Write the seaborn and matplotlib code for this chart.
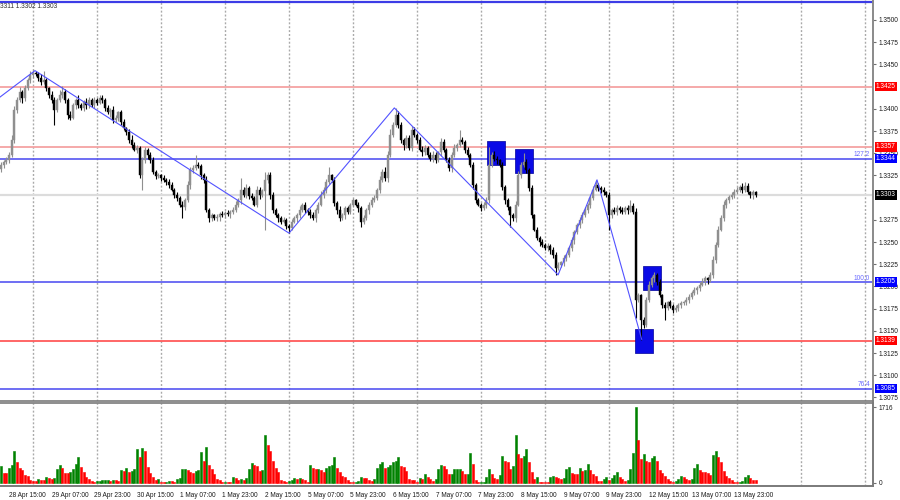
import matplotlib
matplotlib.use("Agg")
import matplotlib.pyplot as plt
import matplotlib.transforms as mtransforms
from matplotlib.path import Path
import numpy as np
import pandas as pd
import seaborn as sns

# --- GBPUSD H1 data, bar 0 = 28 Apr 12:00 ---
first_open = 1.3332
closes = [
    1.3337, 1.3340, 1.3342, 1.3348, 1.3365, 1.3399, 1.3410, 1.3419, 1.3412, 1.3423, 1.3432, 1.3438,
    1.3440, 1.3439, 1.3435, 1.3430, 1.3432, 1.3423, 1.3416, 1.3410, 1.3399, 1.3410, 1.3416, 1.3419,
    1.3410, 1.3393, 1.3390, 1.3404, 1.3410, 1.3404, 1.3401, 1.3408, 1.3404, 1.3410, 1.3404, 1.3410,
    1.3407, 1.3412, 1.3410, 1.3401, 1.3396, 1.3399, 1.3387, 1.3390, 1.3396, 1.3385, 1.3378, 1.3374,
    1.3365, 1.3359, 1.3354, 1.3356, 1.3325, 1.3342, 1.3354, 1.3348, 1.3342, 1.3329, 1.3324, 1.3325,
    1.3322, 1.3320, 1.3318, 1.3314, 1.3309, 1.3303, 1.3300, 1.3292, 1.3289, 1.3297, 1.3314, 1.3331,
    1.3333, 1.3337, 1.3336, 1.3325, 1.3320, 1.3286, 1.3277, 1.3280, 1.3277, 1.3278, 1.3282, 1.3280,
    1.3283, 1.3281, 1.3284, 1.3286, 1.3292, 1.3297, 1.3309, 1.3303, 1.3311, 1.3302, 1.3300, 1.3292,
    1.3309, 1.3303, 1.3308, 1.3320, 1.3325, 1.3303, 1.3286, 1.3280, 1.3277, 1.3273, 1.3275, 1.3268,
    1.3266, 1.3273, 1.3277, 1.3280, 1.3286, 1.3292, 1.3286, 1.3284, 1.3280, 1.3277, 1.3286, 1.3292,
    1.3303, 1.3309, 1.3318, 1.3325, 1.3320, 1.3294, 1.3286, 1.3277, 1.3280, 1.3288, 1.3284, 1.3292,
    1.3297, 1.3292, 1.3288, 1.3273, 1.3277, 1.3286, 1.3292, 1.3297, 1.3300, 1.3309, 1.3320, 1.3329,
    1.3322, 1.3348, 1.3371, 1.3382, 1.3393, 1.3382, 1.3365, 1.3359, 1.3367, 1.3356, 1.3376, 1.3371,
    1.3365, 1.3354, 1.3351, 1.3356, 1.3348, 1.3344, 1.3348, 1.3342, 1.3351, 1.3363, 1.3354, 1.3342,
    1.3333, 1.3348, 1.3356, 1.3359, 1.3365, 1.3363, 1.3354, 1.3348, 1.3337, 1.3314, 1.3297, 1.3292,
    1.3288, 1.3292, 1.3297, 1.3337, 1.3348, 1.3344, 1.3342, 1.3337, 1.3312, 1.3297, 1.3289, 1.3280,
    1.3277, 1.3292, 1.3325, 1.3337, 1.3340, 1.3331, 1.3311, 1.3280, 1.3264, 1.3255, 1.3250, 1.3247,
    1.3243, 1.3246, 1.3241, 1.3235, 1.3221, 1.3224, 1.3227, 1.3232, 1.3235, 1.3243, 1.3252, 1.3261,
    1.3269, 1.3275, 1.3280, 1.3286, 1.3292, 1.3300, 1.3309, 1.3314, 1.3311, 1.3309, 1.3306, 1.3303,
    1.3280, 1.3286, 1.3284, 1.3288, 1.3286, 1.3284, 1.3288, 1.3286, 1.3291, 1.3284, 1.3185, 1.3190,
    1.3162, 1.3157, 1.3185, 1.3202, 1.3209, 1.3213, 1.3205, 1.3190, 1.3179, 1.3176, 1.3182, 1.3178,
    1.3173, 1.3176, 1.3179, 1.3181, 1.3182, 1.3185, 1.3188, 1.3193, 1.3196, 1.3198, 1.3202, 1.3205,
    1.3209, 1.3207, 1.3213, 1.3230, 1.3247, 1.3264, 1.3277, 1.3292, 1.3297, 1.3301, 1.3303, 1.3306,
    1.3309, 1.3312, 1.3309, 1.3313, 1.3306, 1.3303, 1.3306, 1.3303,
]
# upper / lower shadow lengths in pips
wick_up = [
    3, 2, 4, 3, 5, 4, 3, 6, 2, 4, 3, 5,
    4, 3, 2, 4, 10, 3, 2, 4, 3, 2, 5, 7, 3, 2, 4, 3, 2, 5, 3, 2, 4, 3, 2, 3,
    2, 4, 3, 2, 3, 2, 4, 3, 2, 3, 4, 2, 3, 5, 4, 3, 2, 4, 3, 2, 3, 4, 2, 3,
    2, 3, 2, 3, 4, 2, 3, 2, 4, 3, 5, 3, 4, 11, 3, 2, 3, 4, 2, 3, 2, 3, 2, 3,
    2, 3, 2, 3, 4, 3, 13, 3, 4, 2, 3, 2, 4, 3, 2, 9, 4, 4, 3, 2, 3, 2, 3, 2,
    2, 3, 2, 3, 4, 2, 3, 2, 3, 4, 2, 3, 4, 3, 3, 9, 2, 3, 2, 4, 3, 2, 3, 2,
    3, 2, 3, 2, 3, 2, 3, 4, 3, 2, 4, 3, 5, 4, 6, 3, 8, 4, 3, 2, 4, 3, 5, 3,
    2, 3, 4, 3, 2, 3, 4, 3, 2, 4, 3, 2, 4, 3, 4, 3, 11, 3, 2, 3, 2, 3, 2, 3,
    2, 3, 4, 20, 3, 4, 3, 2, 3, 2, 3, 2, 3, 4, 5, 3, 10, 3, 2, 3, 2, 3, 2, 3,
    2, 3, 2, 3, 4, 3, 2, 3, 2, 3, 4, 3, 2, 3, 4, 3, 2, 3, 4, 6, 3, 2, 3, 2,
    3, 2, 3, 4, 2, 3, 2, 4, 6, 3, 4, 3, 2, 4, 3, 4, 3, 3, 2, 3, 2, 3, 2, 3,
    2, 3, 2, 3, 2, 3, 4, 2, 3, 2, 3, 4, 3, 2, 3, 4, 3, 4, 3, 4, 3, 2, 3, 4,
    3, 2, 4, 5, 3, 2, 3, 2,
]
wick_dn = [
    3, 4, 2, 3, 2, 3, 4, 2, 5, 3, 2, 3,
    3, 2, 4, 3, 2, 3, 4, 3, 17, 3, 2, 4, 3, 5, 3, 2, 4, 3, 2, 3, 4, 3, 2, 3,
    3, 2, 4, 3, 2, 5, 3, 2, 4, 3, 2, 3, 4, 3, 2, 4, 3, 16, 3, 4, 3, 2, 3, 2,
    3, 2, 4, 3, 2, 3, 4, 3, 12, 3, 2, 4, 3, 2, 3, 4, 3, 2, 4, 3, 2, 3, 4, 2,
    3, 2, 4, 3, 2, 3, 4, 2, 3, 4, 3, 2, 3, 4, 2, 44, 3, 4, 3, 2, 4, 3, 2, 3,
    6, 3, 2, 4, 3, 2, 3, 4, 3, 2, 4, 3, 2, 3, 4, 3, 2, 3, 4, 3, 2, 4, 3, 2,
    3, 2, 4, 6, 3, 2, 4, 3, 2, 3, 4, 2, 3, 4, 2, 3, 2, 4, 3, 5, 3, 2, 4, 3,
    3, 2, 4, 3, 2, 3, 4, 3, 2, 4, 3, 2, 3, 4, 2, 3, 2, 3, 4, 2, 3, 4, 3, 2,
    3, 2, 4, 3, 2, 3, 4, 2, 3, 4, 3, 13, 3, 4, 2, 3, 2, 3, 4, 3, 2, 3, 4, 3,
    2, 3, 4, 3, 8, 3, 2, 4, 3, 2, 3, 4, 2, 3, 4, 2, 3, 4, 3, 2, 3, 4, 3, 2,
    16, 3, 2, 4, 3, 2, 3, 4, 2, 3, 20, 3, 22, 4, 3, 2, 3, 4, 3, 2, 3, 14, 3, 2,
    3, 2, 4, 3, 2, 3, 4, 2, 3, 4, 3, 2, 3, 4, 2, 3, 4, 3, 2, 3, 4, 3, 2, 3,
    2, 3, 4, 3, 2, 3, 4, 2,
]
volumes = [
    389, 214, 214, 343, 404, 725, 465, 328, 290, 175, 153, 61,
    46, 30, 76, 70, 68, 137, 99, 76, 99, 313, 404, 328, 229, 220, 252, 313, 427, 572, 366, 252, 122, 76, 38, 23,
    30, 45, 61, 65, 70, 46, 61, 55, 38, 290, 267, 328, 252, 267, 305, 763, 572, 786, 710, 366, 214, 137, 70, 76,
    23, 10, 15, 38, 35, 10, 76, 99, 300, 310, 290, 252, 229, 275, 290, 687, 496, 809, 404, 313, 198, 76, 61, 23,
    26, 12, 10, 122, 99, 61, 76, 61, 99, 305, 443, 404, 382, 267, 280, 1091, 862, 710, 496, 328, 252, 61, 38, 10,
    46, 50, 99, 76, 99, 76, 61, 23, 404, 328, 310, 320, 290, 252, 328, 382, 390, 580, 343, 252, 153, 122, 61, 20,
    8, 15, 38, 122, 115, 99, 61, 46, 76, 343, 427, 458, 343, 350, 404, 458, 496, 580, 382, 366, 267, 76, 70, 61,
    10, 114, 76, 191, 137, 76, 46, 76, 305, 404, 382, 305, 191, 200, 305, 310, 313, 275, 191, 200, 671, 427, 61, 10,
    15, 20, 122, 313, 191, 99, 95, 175, 610, 496, 458, 305, 382, 1091, 656, 557, 595, 763, 458, 252, 76, 122, 23, 20,
    15, 10, 137, 153, 140, 99, 84, 99, 305, 351, 214, 205, 200, 328, 267, 290, 420, 290, 198, 153, 46, 40, 76, 122,
    61, 99, 175, 244, 122, 76, 46, 61, 305, 671, 1716, 977, 542, 656, 496, 465, 557, 595, 481, 290, 214, 153, 76, 46,
    23, 46, 76, 153, 122, 76, 61, 84, 328, 427, 290, 252, 245, 214, 175, 633, 710, 572, 458, 267, 153, 114, 61, 23,
    10, 15, 46, 122, 175, 99, 61, 55,
]

date_labels = ["28 Apr 15:00", "29 Apr 07:00", "29 Apr 23:00", "30 Apr 15:00", "1 May 07:00",
               "1 May 23:00", "2 May 15:00", "5 May 07:00", "5 May 23:00", "6 May 15:00",
               "7 May 07:00", "7 May 23:00", "8 May 15:00", "9 May 07:00", "9 May 23:00",
               "12 May 15:00", "13 May 07:00", "13 May 23:00"]
date_bars = [3, 19, 35, 51, 67, 83, 99, 115, 131, 147, 163, 179, 195, 211, 227, 243, 259, 275]
day_bars = [12, 36, 60, 84, 108, 132, 156, 180, 204, 228, 252, 276, 300, 324]

price_ticks = [1.3075, 1.3100, 1.3125, 1.3150, 1.3175, 1.3200, 1.3225, 1.3250, 1.3275,
               1.3325, 1.3350, 1.3375, 1.3400, 1.3450, 1.3475, 1.3500]
red_levels = [1.3425, 1.3357, 1.3139]
blue_levels = [1.3344, 1.3205, 1.3085]
fib_names = ["127.2", "100.0", "76.4"]
top_level = 1.3520
last_price = 1.3303

zz_bars = [-4, 12.75, 108, 147.5, 208.9, 223.5, 240.3]
zz_prices = [1.3405, 1.3443, 1.3260, 1.3401, 1.3213, 1.3320, 1.3140]

sq_bars = [185.6, 196.3, 244.3, 241.3]
sq_prices = [1.3350, 1.3341, 1.3209, 1.3139]

PIP = 0.0001
UP_COL = "#8f8f8f"
DOWN_COL = "#000000"
GRID_COL = "#a9a9a9"
FS = 4.7

sns.set_theme(style="white")
plt.rcParams["font.family"] = ["Liberation Sans", "DejaVu Sans"]

# --- frame ---
df = pd.DataFrame({"bar": np.arange(len(closes)), "close": closes,
                   "wu": wick_up, "wd": wick_dn, "vol": volumes})
df["open"] = [first_open] + closes[:-1]
df["top"] = df[["open", "close"]].max(axis=1)
df["bot"] = df[["open", "close"]].min(axis=1)
df["high"] = df["top"] + df["wu"] * PIP
df["low"] = df["bot"] - df["wd"] * PIP
df["col"] = np.where(df["close"] >= df["open"], UP_COL, DOWN_COL)
df["vdir"] = np.where(df["vol"].diff().fillna(1) > 0, "up", "down")

fig = plt.figure(figsize=(9, 5), dpi=100)
fig.patch.set_facecolor("white")
ax = fig.add_axes([0, 1 - 401 / 500, 873 / 900, 401 / 500])
axv = fig.add_axes([0, 1 - 486 / 500, 873 / 900, 83 / 500])

# --- price panel ---
for b in day_bars:
    ax.axvline(b, color=GRID_COL, lw=1, ls=(0, (1.4, 1.4)), zorder=0)
ax.axhline(last_price, color="#dcdcdc", lw=1.6, zorder=1)
for lv in red_levels:
    ax.axhline(lv, color="#ff5a5a" if lv < 1.32 else "#f4a3a3", lw=1.3, zorder=1)
for lv in blue_levels:
    ax.axhline(lv, color="#4646f0", lw=1.1, zorder=1)
ax.axhline(top_level, color="#3c3ce6", lw=1.6, zorder=1)

rect = Path([(-0.41, -0.5), (0.41, -0.5), (0.41, 0.5), (-0.41, 0.5), (-0.41, -0.5)],
            [Path.MOVETO, Path.LINETO, Path.LINETO, Path.LINETO, Path.CLOSEPOLY])
ax.scatter(sq_bars, sq_prices, marker=rect, s=275, color="#0a0ae6",
           edgecolors="#00009a", linewidths=0.5, zorder=2)

ax.vlines(df["bar"], df["low"], df["high"], colors=df["col"], lw=0.8, zorder=3)
ax.bar(df["bar"], (df["top"] - df["bot"]).clip(lower=0.00004), bottom=df["bot"],
       width=0.72, color=df["col"], edgecolor=df["col"], lw=0.3, zorder=3)

ax.plot(zz_bars, zz_prices, color="#5252ff", lw=0.8, zorder=4)

ax.set_xlim(-0.375, 327)
ax.set_ylim(1.3071, 1.35225)
ax.set_xticks([])
ax.yaxis.tick_right()
ax.set_yticks(price_ticks)
ax.set_yticklabels([f"{p:.4f}" for p in price_ticks])
ax.tick_params(axis="y", labelsize=FS, length=2.5, width=0.8, color="#707070",
               pad=1.5, labelcolor="#1a1a1a", direction="out")
for s in ["left", "top"]:
    ax.spines[s].set_visible(False)
ax.spines["right"].set_color("#8a8a8a")
ax.spines["right"].set_linewidth(1.4)
ax.spines["bottom"].set_color("#7a7a7a")
ax.spines["bottom"].set_linewidth(1.2)

trans = mtransforms.blended_transform_factory(ax.transAxes, ax.transData)
boxes = [(1.3425, "#ff0000", "white"), (1.3357, "#ff0000", "white"),
         (1.3344, "#0000ff", "white"), (1.3303, "#000000", "white"),
         (1.3205, "#0000ff", "white"), (1.3139, "#ff0000", "white"),
         (1.3085, "#0000ff", "white")]
for lv, bg, fg in boxes:
    ax.text(1.0 + 3 / 873, lv, f"{lv:.4f}", transform=trans, ha="left", va="center",
            fontsize=FS, color=fg, clip_on=False, zorder=6,
            bbox=dict(boxstyle="square,pad=0.2", fc=bg, ec="none"))
for lv, name in zip(blue_levels, fib_names):
    ax.text(870 / 873, lv + 0.00004, name, transform=trans, ha="right", va="bottom",
            fontsize=FS, color="#6a6aff", zorder=5)

fig.text(0.0, 1 - 7 / 500, "3311 1.3302 1.3303", fontsize=FS, ha="left", va="center",
         color="#303030")

# --- volume panel ---
for b in day_bars:
    axv.axvline(b, color=GRID_COL, lw=1, ls=(0, (1.4, 1.4)), zorder=0)
sns.barplot(data=df, x="bar", y="vol", hue="vdir", dodge=False, width=0.75,
            palette={"up": "#008200", "down": "#ff0000"}, saturation=1,
            errorbar=None, legend=False, ax=axv, zorder=2)
for p in axv.patches:
    p.set_edgecolor(p.get_facecolor())
    p.set_linewidth(0.4)
axv.set_xlim(-0.375, 327)
axv.set_ylim(-75, 1807)
axv.set_xlabel("")
axv.set_ylabel("")
axv.set_xticks(date_bars)
axv.set_xticklabels(date_labels, ha="left")
axv.tick_params(axis="x", labelsize=FS, length=3, width=0.8, color="#707070", pad=1.5,
                labelcolor="#1a1a1a")
axv.yaxis.tick_right()
axv.set_yticks([0, 1716])
axv.set_yticklabels(["0", "1716"])
axv.tick_params(axis="y", labelsize=FS, length=2.5, width=0.8, color="#707070", pad=1.5,
                labelcolor="#1a1a1a")
axv.spines["left"].set_visible(False)
for s in ["top", "right", "bottom"]:
    axv.spines[s].set_color("#7a7a7a")
axv.spines["top"].set_linewidth(1.2)
axv.spines["right"].set_linewidth(1.4)
axv.spines["bottom"].set_linewidth(1.4)

fig.savefig("out.png", dpi=100, facecolor="white")
